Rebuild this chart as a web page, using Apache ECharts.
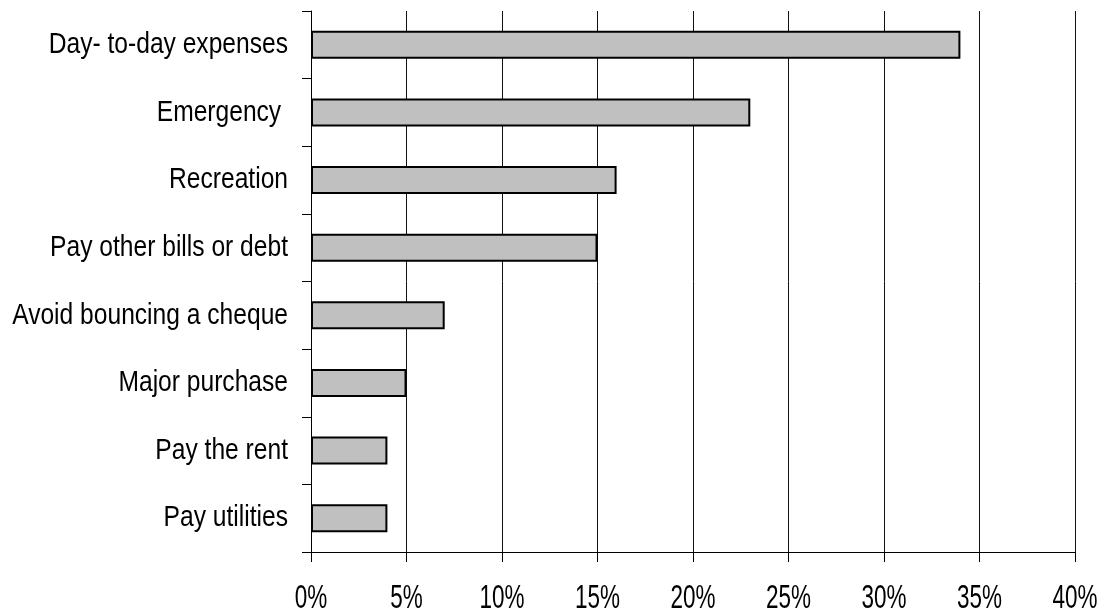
<!DOCTYPE html>
<html>
<head>
<meta charset="utf-8">
<script src="https://cdn.jsdelivr.net/npm/echarts@6/dist/echarts.min.js"></script>
<style>
  html, body { margin: 0; padding: 0; background: #ffffff; }
  #chart { width: 1104px; height: 616px; }
</style>
</head>
<body>
<div id="chart"></div>
<script>
// Reasons for using the funds (share of respondents, %)
const categories = [
  'Day- to-day expenses',
  'Emergency ',
  'Recreation',
  'Pay other bills or debt',
  'Avoid bouncing a cheque',
  'Major purchase',
  'Pay the rent',
  'Pay utilities'
];
const shares = [34, 23, 16, 15, 7, 5, 4, 4];
const tickValues = [0, 5, 10, 15, 20, 25, 30, 35, 40];
const tickLabels = ['0%', '5%', '10%', '15%', '20%', '25%', '30%', '35%', '40%'];

const FONT = "'Liberation Sans', Arial, sans-serif";

const chart = echarts.init(document.getElementById('chart'), null, { renderer: 'canvas' });
chart.setOption({
  backgroundColor: '#ffffff',
  animation: false,
  grid: { left: 311, right: 29, top: 11, bottom: 64, containLabel: false, outerBoundsMode: 'none' },
  xAxis: {
    type: 'value',
    min: tickValues[0],
    max: tickValues[tickValues.length - 1],
    interval: tickValues[1] - tickValues[0],
    axisLine: { show: true, lineStyle: { color: '#000', width: 1 } },
    axisTick: { show: true, length: 10, lineStyle: { color: '#000', width: 1 } },
    splitLine: { show: true, lineStyle: { color: '#111', width: 1 } },
    axisLabel: { show: false }
  },
  yAxis: {
    type: 'category',
    inverse: true,
    data: categories,
    axisLine: { show: true, lineStyle: { color: '#000', width: 1 } },
    axisTick: { show: true, length: 9, lineStyle: { color: '#000', width: 1 } },
    axisLabel: { show: false }
  },
  series: [{
    type: 'bar',
    data: shares,
    barWidth: 28,
    itemStyle: { color: '#c0c0c0', borderColor: '#000', borderWidth: 2 },
    silent: true
  }]
});

// Condensed axis labels, placed from the axes' own scales
function textEl(text, x, y, align, sx, sy) {
  return {
    type: 'text',
    x: x, y: y,
    scaleX: sx, scaleY: sy,
    silent: true,
    style: {
      text: text,
      fontSize: 30,
      fontFamily: FONT,
      fill: '#000',
      align: align, textAlign: align,
      verticalAlign: 'middle', textVerticalAlign: 'middle'
    }
  };
}

const grid = chart.getModel().getComponent('grid').coordinateSystem.getRect();
const labels = [];
categories.forEach(function (c) {
  const y = chart.convertToPixel({ yAxisIndex: 0 }, c);
  labels.push(textEl(c, grid.x - 23, y, 'right', 0.82, 1.0));
});
tickValues.forEach(function (v, i) {
  const x = chart.convertToPixel({ xAxisIndex: 0 }, v);
  labels.push(textEl(tickLabels[i], x, grid.y + grid.height + 47, 'center', 0.75, 1.12));
});
chart.setOption({ graphic: { elements: labels } });
</script>
</body>
</html>
